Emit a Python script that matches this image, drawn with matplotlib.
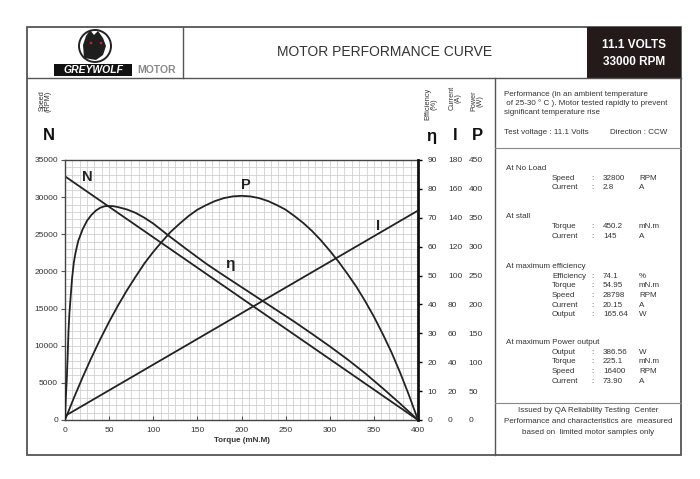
import numpy as np
import matplotlib
matplotlib.use('Agg')
import matplotlib.pyplot as plt
from matplotlib.patches import Rectangle, Ellipse, Polygon
from matplotlib.lines import Line2D

plt.rcParams['font.family'] = ['Liberation Sans', 'DejaVu Sans']

# ---- curve data ----
torque_n = [0, 400]
speed_n = [32800, 0]

torque_i = [0, 400]
current_i = [2.8, 145]

torque_p = [0, 10, 20, 30, 40, 50, 60, 70, 80, 90, 100, 110, 120, 130, 140, 150, 160, 170, 180, 190,
            200, 210, 220, 230, 240, 250, 260, 270, 280, 290, 300, 310, 320, 330, 340, 350, 360, 370,
            380, 390, 400]
power_p = [0, 38, 74, 108, 140, 170, 198, 224, 248, 271, 291, 309, 326, 340, 353, 364, 372, 379, 384, 387,
           388, 387, 384, 379, 372, 364, 353, 341, 327, 311, 293, 274, 253, 231, 206, 179, 149, 117,
           81, 42, 0]

torque_eta = [0, 1, 2, 3, 4, 5, 6, 8, 10, 12, 15, 20, 25, 30, 35, 40, 45, 50, 55, 60, 70, 80, 90, 100,
              110, 120, 140, 160, 180, 200, 220, 240, 260, 280, 300, 320, 340, 360, 380, 400]
eff_eta = [0, 8, 14, 22, 31, 37, 41, 49, 54.5, 58, 62, 66, 69, 71, 72.5, 73.5, 74, 74.1, 74, 73.7, 72.9,
           71.7, 70, 68, 65.6, 63.2, 58.6, 54.1, 50, 46, 42, 38, 34, 29.8, 25.5, 21, 16.2, 11, 5.6, 0]

# ---- axis ticks ----
torque_ticks = [0, 50, 100, 150, 200, 250, 300, 350, 400]
speed_ticks = [0, 5000, 10000, 15000, 20000, 25000, 30000, 35000]
eff_ticks = [0, 10, 20, 30, 40, 50, 60, 70, 80, 90]
current_ticks = [0, 20, 40, 60, 80, 100, 120, 140, 160, 180]
power_ticks = [0, 50, 100, 150, 200, 250, 300, 350, 400, 450]

# ---- spec panel ----
no_load = [("Speed", "32800", "RPM"), ("Current", "2.8", "A")]
stall = [("Torque", "450.2", "mN.m"), ("Current", "145", "A")]
max_eff = [("Efficiency", "74.1", "%"), ("Torque", "54.95", "mN.m"), ("Speed", "28798", "RPM"),
           ("Current", "20.15", "A"), ("Output", "165.64", "W")]
max_power = [("Output", "386.56", "W"), ("Torque", "225.1", "mN.m"), ("Speed", "16400", "RPM"),
             ("Current", "73.90", "A")]

W, H = 700, 479
fig = plt.figure(figsize=(7, 4.79), dpi=100)


def fx(px):
    return px / W


def fy(py):
    return 1 - py / H


def hline(y, x0, x1, lw=1.0, c='#555555'):
    fig.add_artist(Line2D([fx(x0), fx(x1)], [fy(y), fy(y)], lw=lw, color=c))


def vline(x, y0, y1, lw=1.0, c='#555555'):
    fig.add_artist(Line2D([fx(x), fx(x)], [fy(y0), fy(y1)], lw=lw, color=c))


def txt(x, y, s, **kw):
    kw.setdefault('color', '#333333')
    kw.setdefault('fontsize', 5.8)
    kw.setdefault('va', 'center')
    fig.text(fx(x), fy(y), s, **kw)


def ellipse(x, y, w, h, **kw):
    fig.add_artist(Ellipse((fx(x), fy(y)), w / W, h / H, transform=fig.transFigure, **kw))


# frame
fig.add_artist(Rectangle((fx(27), fy(455)), fx(681) - fx(27), fy(27) - fy(455),
                         fill=False, lw=1.3, edgecolor='#555555'))
hline(77.5, 27, 681)
vline(183, 27, 77.5)
vline(495, 77.5, 455)
hline(148, 495, 681, lw=0.8, c='#888888')
hline(402.5, 495, 681, lw=0.8, c='#888888')

# dark header box
fig.add_artist(Rectangle((fx(587), fy(78)), fx(681) - fx(587), fy(27) - fy(78),
                         facecolor='#241a1a', edgecolor='none'))
txt(634, 45, "11.1 VOLTS", color='white', fontsize=8.5, fontweight='bold', ha='center')
txt(634, 62, "33000 RPM", color='white', fontsize=8.5, fontweight='bold', ha='center')
txt(385, 52, "MOTOR PERFORMANCE CURVE", color='#333333', fontsize=10, ha='center')

# logo
ellipse(95, 46, 32, 32, fill=False, lw=1.4, edgecolor='#222222')
wolf = [(84, 58), (83, 45), (86, 36), (90, 30), (94, 35), (98, 31), (103, 38), (106, 46), (103, 55), (96, 60)]
fig.add_artist(Polygon([(fx(a), fy(b)) for a, b in wolf], closed=True, transform=fig.transFigure,
                       facecolor='#1e1e1e', edgecolor='none'))
ellipse(91, 43, 2.6, 2.6, facecolor='#d02020', edgecolor='none')
ellipse(101, 43, 2.6, 2.6, facecolor='#d02020', edgecolor='none')
fig.add_artist(Rectangle((fx(54), fy(75.5)), fx(132) - fx(54), fy(64) - fy(75.5),
                         facecolor='#111111', edgecolor='none'))
txt(93, 70, "GREYWOLF", color='white', fontsize=7.5, fontweight='bold', style='italic', ha='center')
txt(157, 70, "MOTOR", color='#8a8a8a', fontsize=7.5, fontweight='bold', ha='center')

# ---- main chart ----
ax = fig.add_axes([fx(65), fy(420), fx(418) - fx(65), fy(160) - fy(420)])
ax.set_xlim(0, 400)
ax.set_ylim(0, 35000)
ax.set_xticks(torque_ticks)
ax.set_yticks(speed_ticks)
ax.set_xticks(np.linspace(0, 400, 49), minor=True)
ax.set_yticks(np.arange(0, 35001, 1000), minor=True)
ax.grid(which='both', color='#cdcdcd', lw=0.55)
ax.set_axisbelow(True)
ax.tick_params(which='minor', length=0)
ax.tick_params(axis='x', direction='in', length=3, labelsize=6, labelcolor='#333333', pad=5, color='#555555')
ax.tick_params(axis='y', direction='out', length=3, labelsize=6, labelcolor='#333333', pad=2, color='#555555')
for s in ['left', 'bottom', 'top']:
    ax.spines[s].set_color('#444444')
    ax.spines[s].set_linewidth(1.0)
ax.spines['right'].set_visible(False)
ax.plot(torque_n, speed_n, color='#222222', lw=1.3)
ax.set_xlabel("Torque (mN.M)", fontsize=5.8, fontweight='bold', color='#333333', labelpad=2)

ax_eta = ax.twinx()
ax_eta.set_ylim(0, 90)
ax_eta.set_yticks(eff_ticks)
ax_eta.plot(torque_eta, eff_eta, color='#222222', lw=1.3)
ax_eta.tick_params(axis='y', direction='out', length=3, width=1.0, labelsize=6, labelcolor='#333333', pad=4)
ax_eta.spines['right'].set_linewidth(2.0)
ax_eta.spines['right'].set_color('#111111')
for s in ['left', 'bottom', 'top']:
    ax_eta.spines[s].set_visible(False)

ax_i = ax.twinx()
ax_i.set_ylim(0, 180)
ax_i.set_yticks(current_ticks)
ax_i.plot(torque_i, current_i, color='#222222', lw=1.3)
ax_i.tick_params(axis='y', length=0, labelsize=6, labelcolor='#333333', pad=21.6)
for s in ax_i.spines.values():
    s.set_visible(False)

ax_p = ax.twinx()
ax_p.set_ylim(0, 450)
ax_p.set_yticks(power_ticks)
ax_p.plot(torque_p, power_p, color='#222222', lw=1.3)
ax_p.tick_params(axis='y', length=0, labelsize=6, labelcolor='#333333', pad=36.5)
for s in ax_p.spines.values():
    s.set_visible(False)

# curve labels
txt(87, 177, "N", color='#222222', fontsize=10.5, fontweight='bold', ha='center')
txt(246, 185, "P", color='#222222', fontsize=10.5, fontweight='bold', ha='center')
txt(230, 264, "η", color='#222222', fontsize=11, fontweight='bold', ha='center')
txt(378, 226, "I", color='#222222', fontsize=10.5, fontweight='bold', ha='center')

# axis headers
txt(45, 101, "Speed\n(RPM)", fontsize=5.2, rotation=90, ha='center', linespacing=0.9)
txt(431, 104, "Efficiency\n(%)", fontsize=5.4, rotation=90, ha='center', linespacing=0.9)
txt(455, 98, "Current\n(A)", fontsize=5.2, rotation=90, ha='center', linespacing=0.9)
txt(477, 101, "Power\n(W)", fontsize=5.2, rotation=90, ha='center', linespacing=0.9)
for x, s in [(49, "N"), (431, "η"), (455, "I"), (477, "P")]:
    txt(x, 136, s, color='#111111', fontsize=12, fontweight='bold', ha='center')

# ---- right panel text ----
txt(504, 94, "Performance (in an ambient temperature", ha='left')
txt(504, 103.5, " of 25-30 ° C ). Motor tested rapidly to prevent", ha='left')
txt(504, 113, "significant temperature rise", ha='left')
txt(504, 132, "Test voltage : 11.1 Volts", ha='left')
txt(667, 132, "Direction : CCW", ha='right')

sections = [("At No Load", 168, no_load), ("At stall", 217, stall),
            ("At maximum efficiency", 266, max_eff), ("At maximum Power output", 342, max_power)]
for head, y0, rows in sections:
    txt(506, y0, head, ha='left')
    for k, (name, val, unit) in enumerate(rows):
        yy = y0 + 10 + k * 9.7
        txt(552, yy, name, ha='left')
        txt(591, yy, ":", ha='left')
        txt(603, yy, val, ha='left')
        txt(639, yy, unit, ha='left')

txt(588, 411, "Issued by QA Reliability Testing  Center", ha='center')
txt(588, 421.5, "Performance and characteristics are  measured", ha='center')
txt(588, 432, "based on  limited motor samples only", ha='center')

fig.savefig('out.png', dpi=100)
